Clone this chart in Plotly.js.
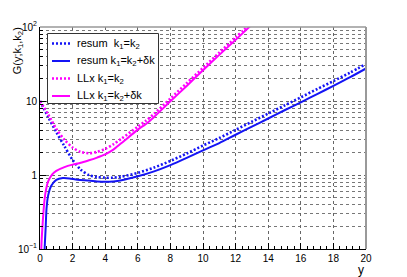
<!DOCTYPE html>
<html>
<head>
<meta charset="utf-8">
<script src="https://cdn.plot.ly/plotly-3.0.1.min.js"></script>
<style>html,body{margin:0;padding:0;background:#fff;}#chart{width:407px;height:277px;}</style>
</head>
<body>
<div id="chart"></div>
<script>
// rapidity values y and G(y;k1,k2)
var yResumEq = [0, 0.5, 1, 1.5, 2, 2.5, 3, 3.5, 4, 4.5, 5, 6, 7, 8, 9, 10, 11, 12, 13, 14, 15, 16, 17, 18, 19, 20];
var gResumEq = [10, 6.1, 3.8, 2.45, 1.6, 1.18, 1.0, 0.94, 0.92, 0.92, 0.95, 1.07, 1.26, 1.55, 1.95, 2.5, 3.16, 4.07, 5.25, 6.76, 8.7, 11.2, 14.5, 18.6, 24, 31.6];

var yResumDk = [0.25, 0.3, 0.35, 0.4, 0.5, 0.7, 1.0, 1.4, 1.8, 2.3, 3, 3.5, 4, 4.5, 5, 6, 7, 8, 9, 10, 11, 12, 13, 14, 15, 16, 17, 18, 19, 20];
var gResumDk = [0.07, 0.12, 0.2, 0.35, 0.53, 0.72, 0.86, 0.91, 0.9, 0.86, 0.84, 0.82, 0.81, 0.82, 0.85, 0.96, 1.12, 1.36, 1.7, 2.15, 2.7, 3.5, 4.5, 5.8, 7.5, 9.6, 12.4, 16, 20.8, 27.5];

var yLLxEq = [0, 0.5, 1, 1.5, 2, 2.5, 3, 3.5, 4, 4.5, 5, 6, 6.5, 7, 8, 9, 10, 11, 12, 13];
var gLLxEq = [10, 6.6, 4.2, 3.0, 2.35, 2.05, 1.97, 2.05, 2.25, 2.6, 3.1, 4.5, 5.4, 6.7, 10.8, 17.4, 28, 45, 72, 115];

var yLLxDk = [0.06, 0.1, 0.15, 0.25, 0.35, 0.5, 0.75, 1.0, 1.5, 2, 2.5, 3, 3.5, 4, 4.5, 5, 6, 6.5, 7, 8, 9, 10, 11, 12, 13];
var gLLxDk = [0.08, 0.13, 0.2, 0.4, 0.6, 0.82, 1.02, 1.14, 1.28, 1.38, 1.46, 1.58, 1.72, 1.9, 2.2, 2.7, 4.1, 4.9, 6.1, 9.9, 16, 26, 42, 67, 108];

var seriesNames = ['resum\u00a0 k<sub>1</sub>=k<sub>2</sub>', 'resum k<sub>1</sub>=k<sub>2</sub>+δk',
                   'LLx k<sub>1</sub>=k<sub>2</sub>', 'LLx k<sub>1</sub>=k<sub>2</sub>+δk'];

var xTickVals = [0, 2, 4, 6, 8, 10, 12, 14, 16, 18, 20];
var yTickVals = [0.1, 1, 10, 100];
var yTickText = ['10<sup>\u22121</sup>', '1', '10', '10<sup>2</sup>'];
var yMinorVals = [0.2, 0.3, 0.4, 0.5, 0.6, 0.7, 0.8, 0.9, 2, 3, 4, 5, 6, 7, 8, 9, 20, 30, 40, 50, 60, 70, 80, 90];

var BLUE = 'rgb(20,20,245)';
var MAG = 'rgb(255,0,255)';
var DOT = '2px,2px';
var seriesColors = [BLUE, BLUE, MAG, MAG];
var seriesDash = [DOT, 'solid', DOT, 'solid'];
var seriesWidth = [2.6, 2, 2.6, 2];

var xs = [yResumEq, yResumDk, yLLxEq, yLLxDk];
var gs = [gResumEq, gResumDk, gLLxEq, gLLxDk];

var traces = xs.map(function (xv, i) {
  return {x: xv, y: gs[i], name: seriesNames[i], mode: 'lines', showlegend: false,
          line: {color: seriesColors[i], width: seriesWidth[i], dash: seriesDash[i], shape: 'spline', smoothing: 0.8}};
});

var FONT = 'Liberation Sans, Arial, sans-serif';

// legend drawn by hand (ROOT-style compact box), in paper coordinates
var W = 326, H = 222, L = 40, T = 27;
function px2x(p) { return (p - L) / W; }
function py2y(p) { return 1 - (p - T) / H; }

var shapes = [
  {type: 'line', xref: 'paper', yref: 'paper', x0: 0, x1: 1, y0: 1, y1: 1, line: {color: '#999', width: 1.5}},
  {type: 'line', xref: 'paper', yref: 'paper', x0: 1, x1: 1, y0: 0, y1: 1, line: {color: '#999', width: 2}},
  {type: 'rect', xref: 'paper', yref: 'paper', layer: 'above', x0: px2x(47.5), x1: px2x(158.5), y0: py2y(103.5), y1: py2y(33.5),
   line: {color: '#333', width: 1}, fillcolor: '#fff'}
];
var rowY = [43.5, 61, 78.5, 96];
var annotations = [
  {text: 'G(y;k<sub>1</sub>,k<sub>2</sub>)', textangle: -90, xref: 'paper', yref: 'paper',
   x: -0.0675, y: 1.01, xanchor: 'center', yanchor: 'top', showarrow: false,
   font: {family: FONT, size: 11, color: '#000'}},
  {text: 'y', xref: 'paper', yref: 'paper', x: 1, y: -0.055, xanchor: 'right', yanchor: 'top',
   showarrow: false, font: {family: FONT, size: 12, color: '#000'}}
];
for (var i = 0; i < 4; i++) {
  shapes.push({type: 'line', xref: 'paper', yref: 'paper', layer: 'above',
               x0: px2x(52), x1: px2x(70), y0: py2y(rowY[i]), y1: py2y(rowY[i]),
               line: {color: seriesColors[i], width: seriesWidth[i], dash: seriesDash[i]}});
  annotations.push({text: seriesNames[i], xref: 'paper', yref: 'paper', x: px2x(75), y: py2y(rowY[i]),
                    xanchor: 'left', yanchor: 'middle', showarrow: false,
                    font: {family: FONT, size: 11, color: '#000'}});
}

var layout = {
  width: 407, height: 277,
  margin: {l: 40, r: 41, t: 27, b: 28, pad: 0},
  paper_bgcolor: '#fff', plot_bgcolor: '#fff',
  font: {family: FONT, size: 10, color: '#000'},
  showlegend: false,
  xaxis: {
    range: [0, 20], tickmode: 'array', tickvals: xTickVals, ticks: 'inside', ticklen: 6,
    tickcolor: '#000', tickwidth: 1, showline: true, linecolor: '#000', linewidth: 1,
    showgrid: true, gridcolor: '#666', griddash: 'dot', gridwidth: 1, zeroline: false,
    tickfont: {family: FONT, size: 10, color: '#000'},
    minor: {tick0: 0, dtick: 0.4, ticks: 'inside', ticklen: 3, tickcolor: '#000', showgrid: false}
  },
  yaxis: {
    type: 'log', range: [-1, 2], tickmode: 'array', tickvals: yTickVals, ticktext: yTickText,
    ticks: 'inside', ticklen: 6, tickcolor: '#000', tickwidth: 1,
    showline: true, linecolor: '#000', linewidth: 1,
    showgrid: true, gridcolor: '#666', griddash: 'dot', gridwidth: 1, zeroline: false,
    tickfont: {family: FONT, size: 10, color: '#000'},
    minor: {tickmode: 'array', tickvals: yMinorVals, ticks: 'inside', ticklen: 3, tickcolor: '#000',
            showgrid: true, gridcolor: '#777', griddash: 'dot', gridwidth: 1}
  },
  shapes: shapes,
  annotations: annotations
};

Plotly.newPlot('chart', traces, layout, {staticPlot: true, displayModeBar: false});
</script>
</body>
</html>
